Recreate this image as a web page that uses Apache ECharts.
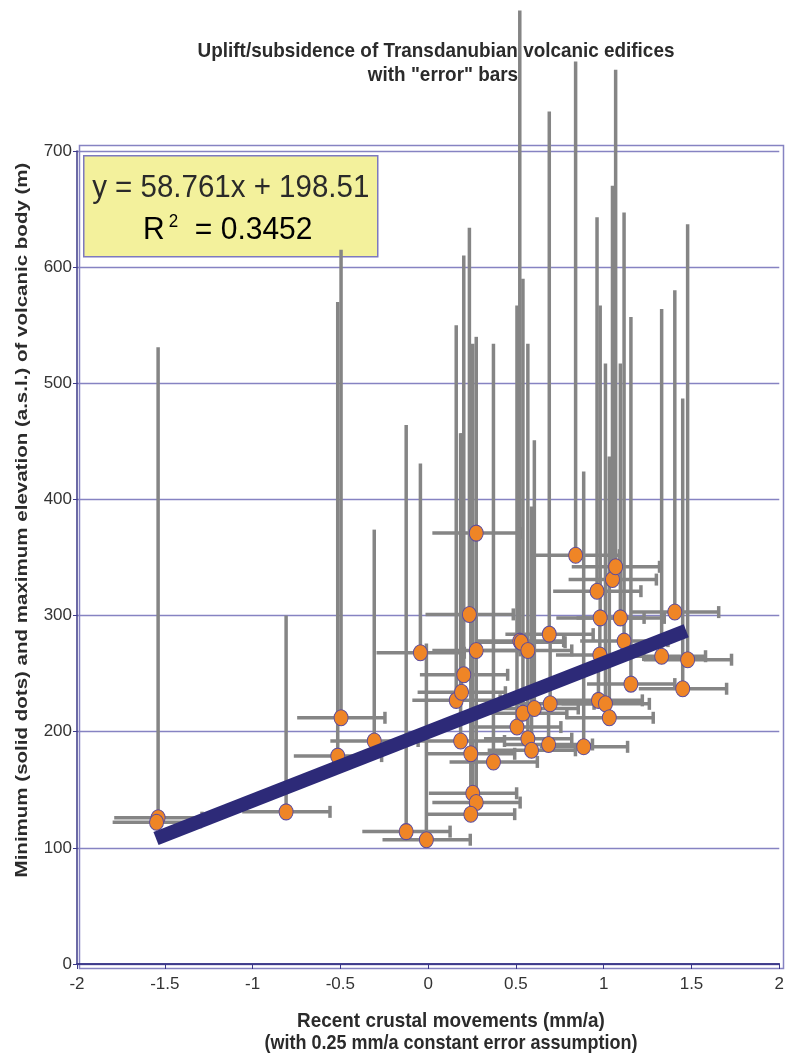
<!DOCTYPE html>
<html>
<head>
<meta charset="utf-8">
<script src="https://cdn.jsdelivr.net/npm/echarts@6/dist/echarts.min.js"></script>
<style>
  html, body { margin: 0; padding: 0; background: #fff; }
  #chart { width: 787px; height: 1053px; }
</style>
</head>
<body>
<div id="chart"></div>
<script>
// 数据：每个火山体的现代地壳运动 (mm/a)、最低点 (圆点) 与最高点 (竖线顶端) 高程 (m)
const ptX = [
  -1.538, -1.547, -0.809, -0.496, -0.515, -0.307, -0.125, -0.044, -0.010,
  0.160, 0.185, 0.190, 0.203, 0.235, 0.243, 0.254, 0.274, 0.274, 0.274, 0.243, 0.372,
  0.506, 0.522, 0.530, 0.540, 0.568, 0.568, 0.589, 0.605, 0.690, 0.695, 0.686,
  0.840, 0.886,
  0.962, 0.980, 0.978, 0.970, 1.010, 1.032, 1.050, 1.068, 1.095, 1.116, 1.155,
  1.330, 1.405, 1.450, 1.478
];
const ptMin = [
  126, 122, 131, 212, 179, 192, 114, 268, 107,
  227, 192, 234, 249, 301, 181, 147, 371, 270, 139, 129, 174,
  204, 278, 277, 216, 270, 194, 184, 220, 284, 224, 189,
  352, 187,
  321, 298, 266, 227, 224, 212, 331, 342, 298, 278, 241,
  265, 303, 237, 262
];
const ptMax = [
  531, 126, 300, 615, 570, 374, 464, 431, 276,
  550, 457, 457, 610, 634, 300, 534, 540, 371, 270, 181, 534,
  567, 821, 278, 590, 534, 270, 394, 451, 734, 284, 224,
  777, 424,
  643, 567, 298, 266, 517, 437, 670, 770, 517, 647, 557,
  564, 580, 487, 637
];
const errX = 0.25; // 0.25 mm/a 常数误差
const trendX = [-1.55, 1.47];
const trendY = [108, 287];

const SANS = "'Liberation Sans', Arial, sans-serif";
const BAR = '#858585';
const NAVY = '#3b3889';
const GRIDC = '#8683c2';

const chart = echarts.init(document.getElementById('chart'));
const pts = ptX.map((x, i) => [x, ptMin[i], ptMax[i]]);

// 原图纵向拉伸，文字用 scale 模拟
function label(x, y, text, font, extra) {
  return Object.assign({ type: 'text', x, y, silent: true,
    style: { text, fill: '#2b2b2b', font, textAlign: 'center', textVerticalAlign: 'middle' } }, extra || {});
}

chart.setOption({
  animation: false,
  backgroundColor: '#fff',
  grid: { left: 77, right: 6, top: 151, bottom: 89 },
  xAxis: [
    {
      type: 'value', min: -2, max: 2, interval: 0.5,
      axisLine: { show: true, onZero: false, lineStyle: { color: NAVY, width: 1.5 } },
      axisTick: { show: true, length: 5, lineStyle: { color: NAVY } },
      axisLabel: { color: '#333', fontSize: 17, fontFamily: SANS, margin: 12 },
      splitLine: { show: false }
    },
    {
      type: 'value', min: -2, max: 2, position: 'top',
      axisLine: { show: true, lineStyle: { color: NAVY, width: 1.5 } },
      axisTick: { show: false }, axisLabel: { show: false }, splitLine: { show: false }
    }
  ],
  yAxis: {
    type: 'value', min: 0, max: 700, interval: 100,
    axisLine: { show: true, onZero: false, lineStyle: { color: NAVY, width: 1.5 } },
    axisTick: { show: true, length: 4, lineStyle: { color: NAVY } },
    axisLabel: { color: '#333', fontSize: 17, fontFamily: SANS, margin: 5 },
    splitLine: { show: true, lineStyle: { color: GRIDC, width: 1.3 } }
  },
  graphic: [
    { type: 'rect', left: 77, top: 143, z: -1, silent: true,
      shape: { width: 704, height: 823 }, style: { fill: 'none', stroke: GRIDC, lineWidth: 1.5 } },
    label(436, 51, 'Uplift/subsidence of Transdanubian volcanic edifices', 'bold 18px ' + SANS, { scaleX: 1.05, scaleY: 1.15 }),
    label(443, 75, 'with "error" bars', 'bold 18px ' + SANS, { scaleX: 1.05, scaleY: 1.15 }),
    label(22, 520, 'Minimum (solid dots) and maximum elevation (a.s.l.) of volcanic body (m)', 'bold 18px ' + SANS,
      { rotation: Math.PI / 2, scaleX: 1.14, scaleY: 0.95 }),
    label(451, 1021, 'Recent crustal movements (mm/a)', 'bold 18px ' + SANS, { scaleX: 1.05, scaleY: 1.15 }),
    label(451, 1043, '(with 0.25 mm/a constant error assumption)', 'bold 18px ' + SANS, { scaleX: 1.0, scaleY: 1.15 }),
    {
      type: 'group', left: 83, top: 155, z: 100,
      children: [
        { type: 'rect', shape: { x: 0, y: 0, width: 294, height: 101 },
          style: { fill: '#f3f19c', stroke: '#7d79bf', lineWidth: 1.5 } },
        { type: 'text', x: 147, y: 33, scaleY: 1.05, style: { text: 'y = 58.761x + 198.51',
          fill: '#2a2a2a', font: '29.5px ' + SANS, textAlign: 'center', textVerticalAlign: 'middle' } },
        { type: 'text', x: 144, y: 75, scaleY: 1.05, style: { text: '{a|R}{s|2}{a|  = 0.3452}',
          textAlign: 'center', textVerticalAlign: 'middle',
          rich: {
            a: { fontSize: 30, fontFamily: SANS, color: '#2a2a2a' },
            s: { fontSize: 17, fontFamily: SANS, color: '#2a2a2a', verticalAlign: 'top', padding: [0, 0, 16, 4] }
          } } }
      ]
    }
  ],
  series: [
    {
      // 竖线：最低点到最高点
      type: 'custom', clip: false, z: 2, silent: true,
      data: pts,
      encode: { x: 0, y: 1 },
      renderItem: (params, api) => {
        const p0 = api.coord([api.value(0), api.value(1)]);
        const p1 = api.coord([api.value(0), api.value(2)]);
        return { type: 'line', shape: { x1: p0[0], y1: p0[1], x2: p1[0], y2: p1[1] },
          style: { stroke: BAR, lineWidth: 3.5 } };
      }
    },
    {
      // 横向误差线 ±0.25，右端带帽
      type: 'custom', clip: false, z: 2, silent: true,
      data: pts,
      encode: { x: 0, y: 1 },
      renderItem: (params, api) => {
        const x = api.value(0), y = api.value(1);
        const a = api.coord([x - errX, y]);
        const b = api.coord([x + errX, y]);
        return { type: 'group', children: [
          { type: 'line', shape: { x1: a[0], y1: a[1], x2: b[0], y2: b[1] }, style: { stroke: BAR, lineWidth: 3.5 } },
          { type: 'line', shape: { x1: b[0], y1: b[1] - 6, x2: b[0], y2: b[1] + 6 }, style: { stroke: BAR, lineWidth: 3.5 } }
        ] };
      }
    },
    {
      type: 'scatter', z: 3, silent: true,
      data: pts.map(p => [p[0], p[1]]),
      symbolSize: [14, 16],
      itemStyle: { color: '#ef8526', borderColor: '#5c4c9c', borderWidth: 1, opacity: 1 }
    },
    {
      type: 'line', z: 4, silent: true,
      data: trendX.map((x, i) => [x, trendY[i]]),
      showSymbol: false, symbol: 'none',
      lineStyle: { color: '#2d2a78', width: 14, cap: 'butt' }
    }
  ]
});
</script>
</body>
</html>
